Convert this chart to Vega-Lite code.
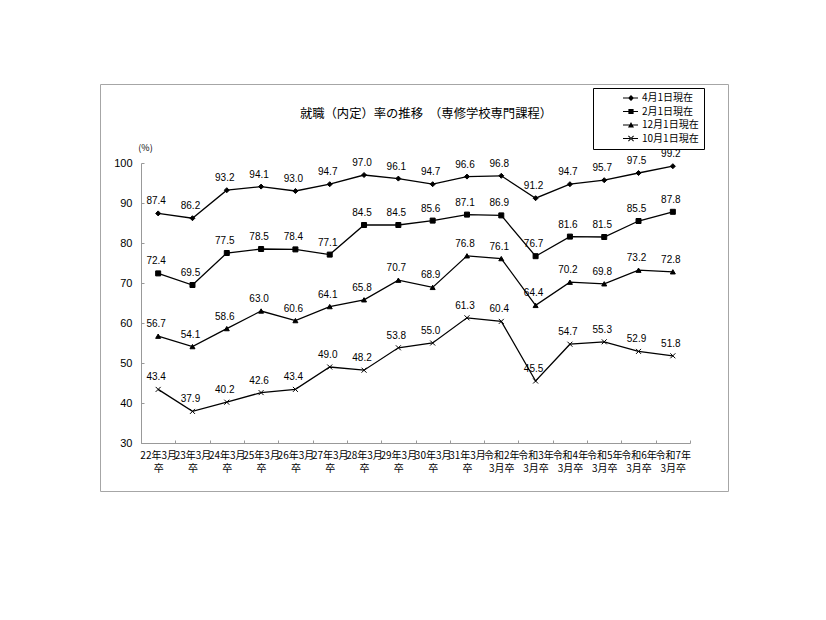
{
  "$schema": "https://vega.github.io/schema/vega-lite/v6.json",
  "autosize": {"type": "none"},
  "width": 628,
  "height": 407,
  "padding": {"left": 100, "top": 84, "right": 98, "bottom": 129},
  "background": "white",
  "config": {
    "view": {"stroke": "#a6a6a6", "strokeWidth": 1},
    "font": "Noto Sans CJK JP"
  },
  "title": {
    "text": "就職（内定）率の推移　（専修学校専門課程）",
    "font": "Noto Sans CJK JP",
    "fontSize": 12.3,
    "fontWeight": "normal",
    "color": "#000",
    "anchor": "middle",
    "frame": "group",
    "baseline": "middle",
    "dx": 12,
    "offset": -42
  },
  "data": {
    "values": [
      {"cat": "22年3月卒", "series": "4月1日現在", "value": 87.4},
      {"cat": "23年3月卒", "series": "4月1日現在", "value": 86.2},
      {"cat": "24年3月卒", "series": "4月1日現在", "value": 93.2},
      {"cat": "25年3月卒", "series": "4月1日現在", "value": 94.1},
      {"cat": "26年3月卒", "series": "4月1日現在", "value": 93.0},
      {"cat": "27年3月卒", "series": "4月1日現在", "value": 94.7},
      {"cat": "28年3月卒", "series": "4月1日現在", "value": 97.0},
      {"cat": "29年3月卒", "series": "4月1日現在", "value": 96.1},
      {"cat": "30年3月卒", "series": "4月1日現在", "value": 94.7},
      {"cat": "31年3月卒", "series": "4月1日現在", "value": 96.6},
      {"cat": "令和2年3月卒", "series": "4月1日現在", "value": 96.8},
      {"cat": "令和3年3月卒", "series": "4月1日現在", "value": 91.2},
      {"cat": "令和4年3月卒", "series": "4月1日現在", "value": 94.7},
      {"cat": "令和5年3月卒", "series": "4月1日現在", "value": 95.7},
      {"cat": "令和6年3月卒", "series": "4月1日現在", "value": 97.5},
      {"cat": "令和7年3月卒", "series": "4月1日現在", "value": 99.2},
      {"cat": "22年3月卒", "series": "2月1日現在", "value": 72.4},
      {"cat": "23年3月卒", "series": "2月1日現在", "value": 69.5},
      {"cat": "24年3月卒", "series": "2月1日現在", "value": 77.5},
      {"cat": "25年3月卒", "series": "2月1日現在", "value": 78.5},
      {"cat": "26年3月卒", "series": "2月1日現在", "value": 78.4},
      {"cat": "27年3月卒", "series": "2月1日現在", "value": 77.1},
      {"cat": "28年3月卒", "series": "2月1日現在", "value": 84.5},
      {"cat": "29年3月卒", "series": "2月1日現在", "value": 84.5},
      {"cat": "30年3月卒", "series": "2月1日現在", "value": 85.6},
      {"cat": "31年3月卒", "series": "2月1日現在", "value": 87.1},
      {"cat": "令和2年3月卒", "series": "2月1日現在", "value": 86.9},
      {"cat": "令和3年3月卒", "series": "2月1日現在", "value": 76.7},
      {"cat": "令和4年3月卒", "series": "2月1日現在", "value": 81.6},
      {"cat": "令和5年3月卒", "series": "2月1日現在", "value": 81.5},
      {"cat": "令和6年3月卒", "series": "2月1日現在", "value": 85.5},
      {"cat": "令和7年3月卒", "series": "2月1日現在", "value": 87.8},
      {"cat": "22年3月卒", "series": "12月1日現在", "value": 56.7},
      {"cat": "23年3月卒", "series": "12月1日現在", "value": 54.1},
      {"cat": "24年3月卒", "series": "12月1日現在", "value": 58.6},
      {"cat": "25年3月卒", "series": "12月1日現在", "value": 63.0},
      {"cat": "26年3月卒", "series": "12月1日現在", "value": 60.6},
      {"cat": "27年3月卒", "series": "12月1日現在", "value": 64.1},
      {"cat": "28年3月卒", "series": "12月1日現在", "value": 65.8},
      {"cat": "29年3月卒", "series": "12月1日現在", "value": 70.7},
      {"cat": "30年3月卒", "series": "12月1日現在", "value": 68.9},
      {"cat": "31年3月卒", "series": "12月1日現在", "value": 76.8},
      {"cat": "令和2年3月卒", "series": "12月1日現在", "value": 76.1},
      {"cat": "令和3年3月卒", "series": "12月1日現在", "value": 64.4},
      {"cat": "令和4年3月卒", "series": "12月1日現在", "value": 70.2},
      {"cat": "令和5年3月卒", "series": "12月1日現在", "value": 69.8},
      {"cat": "令和6年3月卒", "series": "12月1日現在", "value": 73.2},
      {"cat": "令和7年3月卒", "series": "12月1日現在", "value": 72.8},
      {"cat": "22年3月卒", "series": "10月1日現在", "value": 43.4},
      {"cat": "23年3月卒", "series": "10月1日現在", "value": 37.9},
      {"cat": "24年3月卒", "series": "10月1日現在", "value": 40.2},
      {"cat": "25年3月卒", "series": "10月1日現在", "value": 42.6},
      {"cat": "26年3月卒", "series": "10月1日現在", "value": 43.4},
      {"cat": "27年3月卒", "series": "10月1日現在", "value": 49.0},
      {"cat": "28年3月卒", "series": "10月1日現在", "value": 48.2},
      {"cat": "29年3月卒", "series": "10月1日現在", "value": 53.8},
      {"cat": "30年3月卒", "series": "10月1日現在", "value": 55.0},
      {"cat": "31年3月卒", "series": "10月1日現在", "value": 61.3},
      {"cat": "令和2年3月卒", "series": "10月1日現在", "value": 60.4},
      {"cat": "令和3年3月卒", "series": "10月1日現在", "value": 45.5},
      {"cat": "令和4年3月卒", "series": "10月1日現在", "value": 54.7},
      {"cat": "令和5年3月卒", "series": "10月1日現在", "value": 55.3},
      {"cat": "令和6年3月卒", "series": "10月1日現在", "value": 52.9},
      {"cat": "令和7年3月卒", "series": "10月1日現在", "value": 51.8}
    ]
  },
  "encoding": {
    "x": {
      "field": "cat",
      "type": "ordinal",
      "scale": {
        "type": "band",
        "domain": ["22年3月卒","23年3月卒","24年3月卒","25年3月卒","26年3月卒","27年3月卒","28年3月卒","29年3月卒","30年3月卒","31年3月卒","令和2年3月卒","令和3年3月卒","令和4年3月卒","令和5年3月卒","令和6年3月卒","令和7年3月卒"],
        "range": [41, 590],
        "paddingInner": 0,
        "paddingOuter": 0
      },
      "axis": {
        "title": null,
        "offset": -48,
        "labelAngle": 0,
        "labelExpr": "isString(datum.value) ? (indexof(datum.value, '令和') == 0 ? [substring(datum.value, 0, 4), substring(datum.value, 4)] : [substring(datum.value, 0, 5), substring(datum.value, 5)]) : ''",
        "labelFont": "Noto Sans CJK JP",
        "labelFontSize": 10,
        "labelLineHeight": 13,
        "labelColor": "#000",
        "labelPadding": 10,
        "labelBaseline": "top",
        "tickBand": "extent",
        "tickSize": -3,
        "tickColor": "#999",
        "domainColor": "#999",
        "grid": false
      }
    },
    "y": {
      "field": "value",
      "type": "quantitative",
      "scale": {"domain": [30, 100], "range": [359, 79], "nice": false, "zero": false},
      "axis": {
        "title": "(%)",
        "titleAngle": 0,
        "titleFont": "Noto Sans CJK JP",
        "titleFontSize": 9,
        "titleFontWeight": "normal",
        "titleColor": "#000",
        "titleAlign": "center",
        "titleBaseline": "middle",
        "titleX": 4,
        "titleY": 63,
        "offset": -41,
        "values": [30, 40, 50, 60, 70, 80, 90, 100],
        "labelFont": "Liberation Sans",
        "labelFontSize": 11,
        "labelColor": "#000",
        "labelPadding": 12,
        "tickSize": -3,
        "tickColor": "#999",
        "domainColor": "#999",
        "grid": false
      }
    }
  },
  "resolve": {"scale": {"shape": "independent"}},
  "layer": [
    {
      "mark": {"type": "line", "color": "#000", "strokeWidth": 1.3},
      "encoding": {"detail": {"field": "series"}}
    },
    {
      "mark": {"type": "point", "filled": true, "fill": "#000", "stroke": "#000", "strokeWidth": 1, "size": 25, "opacity": 1},
      "encoding": {
        "shape": {
          "field": "series",
          "type": "nominal",
          "scale": {
            "domain": ["4月1日現在", "2月1日現在", "12月1日現在", "10月1日現在"],
            "range": ["diamond", "square", "triangle-up", "M-1,-1L1,1M-1,1L1,-1"]
          },
          "legend": null
        }
      }
    },
    {
      "mark": {"type": "point", "filled": true, "fill": "#000", "opacity": 0, "size": 64},
      "encoding": {
        "shape": {
          "field": "series",
          "type": "nominal",
          "scale": {
            "domain": ["4月1日現在", "2月1日現在", "12月1日現在", "10月1日現在"],
            "range": [
              "M5,-0.15L8.75,-0.15L8.75,0.15L5,0.15ZM7,-0.75L7.75,0L7,0.75L6.25,0Z",
              "M5,-0.15L8.75,-0.15L8.75,0.15L5,0.15ZM6.35,-0.65L7.65,-0.65L7.65,0.65L6.35,0.65Z",
              "M5,-0.15L8.75,-0.15L8.75,0.15L5,0.15ZM7,-0.75L7.75,0.6L6.25,0.6Z",
              "M5,-0.15L8.75,-0.15L8.75,0.15L5,0.15ZM6.435,-0.735L7.735,0.565L7.565,0.735L6.265,-0.565ZM6.435,0.735L7.735,-0.565L7.565,-0.735L6.265,0.565Z"
            ]
          },
          "legend": {
            "title": null,
            "orient": "none",
            "legendX": 493,
            "legendY": 4,
            "direction": "vertical",
            "strokeColor": "#000",
            "fillColor": "#fff",
            "padding": 5,
            "symbolSize": 64,
            "symbolOpacity": 1,
            "symbolFillColor": "#000",
            "symbolStrokeWidth": 0,
            "labelFont": "Noto Sans CJK JP",
            "labelFontSize": 10,
            "labelColor": "#000",
            "labelOffset": 34,
            "rowPadding": 3.5,
            "labelLimit": 200
          }
        }
      }
    },
    {
      "mark": {"type": "text", "dy": -12, "dx": -2, "font": "Liberation Sans", "fontSize": 10, "color": "#000"},
      "encoding": {
        "text": {"field": "value", "type": "quantitative", "format": ".1f"}
      }
    }
  ]
}
